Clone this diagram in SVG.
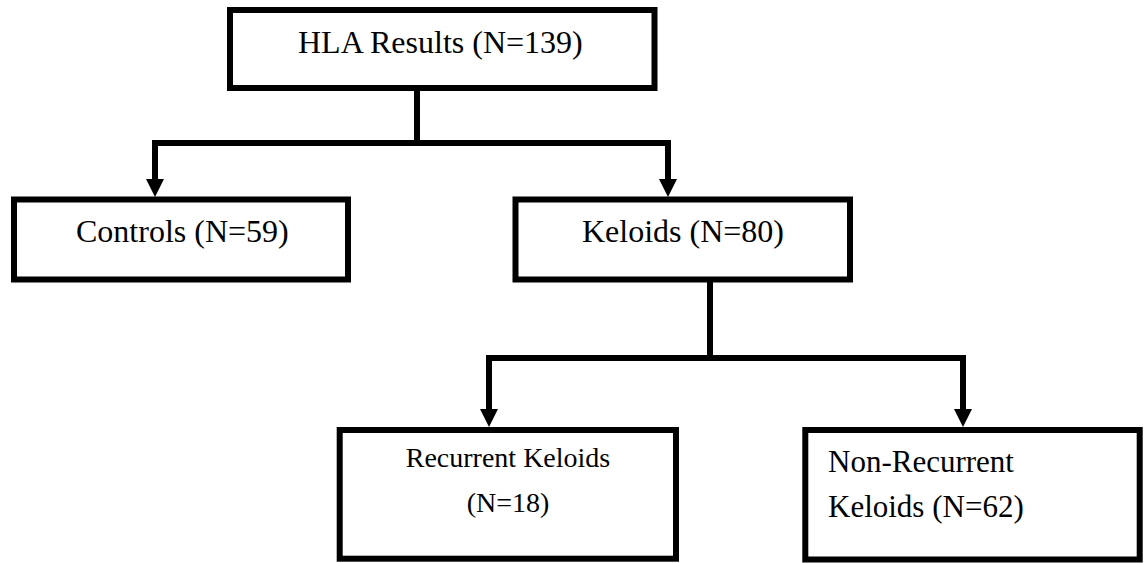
<svg xmlns="http://www.w3.org/2000/svg" width="1148" height="563" viewBox="0 0 1148 563">
  <style>
    .box { fill: #ffffff; stroke: #000000; stroke-width: 6; }
    .conn { fill: none; stroke: #000000; stroke-width: 6; stroke-linecap: butt; stroke-linejoin: miter; }
    .lbl { font-family: "Liberation Serif", "Times New Roman", serif; fill: #000000; }
  </style>
  <defs>
    <marker id="arrow" markerUnits="userSpaceOnUse" markerWidth="18" markerHeight="18" viewBox="0 0 18 18" refX="0" refY="9" orient="auto">
      <path d="M0,0 L18,9 L0,18 Z" fill="#000000"/>
    </marker>
  </defs>
  <rect width="1148" height="563" fill="#ffffff"/>
  <g id="connectors">
    <path class="conn" d="M417,82 V143"/>
    <path class="conn" d="M155,179 V143 H668 V179" marker-end="url(#arrow)" marker-start="none"/>
    <path class="conn" d="M155,143 V179" marker-end="url(#arrow)"/>
    <path class="conn" d="M710,274 V358"/>
    <path class="conn" d="M489,409 V358 H963 V409" marker-end="url(#arrow)"/>
    <path class="conn" d="M489,358 V409" marker-end="url(#arrow)"/>
  </g>
  <g id="node-hla">
    <rect class="box" x="230" y="10" width="424.5" height="78"/>
    <text class="lbl" x="298" y="53" font-size="32">HLA Results (N=139)</text>
  </g>
  <g id="node-controls">
    <rect class="box" x="14" y="199.5" width="334" height="80"/>
    <text class="lbl" x="76" y="242" font-size="32">Controls (N=59)</text>
  </g>
  <g id="node-keloids">
    <rect class="box" x="515.5" y="199.5" width="334.5" height="80"/>
    <text class="lbl" x="582" y="242" font-size="32">Keloids (N=80)</text>
  </g>
  <g id="node-recurrent">
    <rect class="box" x="339.7" y="430" width="336.3" height="128.7"/>
    <text class="lbl" x="508" y="467" font-size="28" text-anchor="middle">Recurrent Keloids</text>
    <text class="lbl" x="508" y="512" font-size="28" text-anchor="middle">(N=18)</text>
  </g>
  <g id="node-nonrecurrent">
    <rect class="box" x="805.3" y="430" width="334.4" height="129.5"/>
    <text class="lbl" x="828" y="472" font-size="31">Non-Recurrent</text>
    <text class="lbl" x="828" y="517" font-size="31">Keloids (N=62)</text>
  </g>
</svg>
